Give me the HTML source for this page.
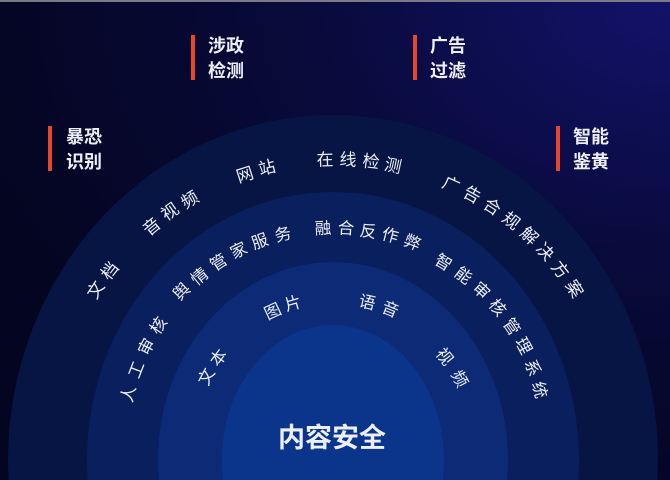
<!DOCTYPE html>
<html><head><meta charset="utf-8"><style>
html,body{margin:0;padding:0;width:670px;height:480px;overflow:hidden;background:#050726;}
svg{display:block;position:absolute;left:0;top:0}
text{font-family:"Liberation Sans","Noto Sans CJK SC",sans-serif;fill:#eceff8;}
</style></head><body>
<svg width="670" height="480" viewBox="0 0 670 480" xmlns="http://www.w3.org/2000/svg">
<defs>
<radialGradient id="bg" cx="1" cy="0" r="1.1">
<stop offset="0" stop-color="#13126a"/>
<stop offset="0.5" stop-color="#080a3a"/>
<stop offset="1" stop-color="#040520"/>
</radialGradient>
<clipPath id="c"><rect width="670" height="480"/></clipPath>
</defs>
<g clip-path="url(#c)">
<rect width="670" height="480" fill="url(#bg)"/>
<rect width="670" height="2" fill="#7a7a86"/>
<ellipse cx="333" cy="460" rx="325" ry="345" fill="#071545"/>
<ellipse cx="333" cy="460" rx="246" ry="268" fill="#0a1f5d"/>
<ellipse cx="333" cy="460" rx="175" ry="198" fill="#0c2a75"/>
<ellipse cx="333" cy="460" rx="111" ry="135" fill="#0b358b"/>
</g>

<g font-size="18" font-weight="bold">
<rect x="191" y="35" width="4" height="45" fill="#e8462a"/>
<text x="208" y="52">涉政</text><text x="208" y="77">检测</text>
<rect x="413" y="35" width="4" height="45" fill="#e8462a"/>
<text x="430" y="52">广告</text><text x="430" y="77">过滤</text>
<rect x="48" y="126" width="4" height="45" fill="#e8462a"/>
<text x="66" y="143">暴恐</text><text x="66" y="168">识别</text>
<rect x="556" y="126" width="4" height="45" fill="#e8462a"/>
<text x="573" y="143">智能</text><text x="573" y="168">鉴黄</text>
</g>

<g font-size="17" text-anchor="middle" dominant-baseline="central">
<text x="96" y="290" transform="rotate(-57 96 290)">文</text>
<text x="110" y="271" transform="rotate(-52 110 271)">档</text>
<text x="152" y="227" transform="rotate(-40 152 227)">音</text>
<text x="170" y="212" transform="rotate(-35 170 212)">视</text>
<text x="190" y="200" transform="rotate(-31 190 200)">频</text>
<text x="245" y="175" transform="rotate(-18 245 175)">网</text>
<text x="267" y="168" transform="rotate(-14 267 168)">站</text>
<text x="325" y="160" transform="rotate(-2 325 160)">在</text>
<text x="348" y="160" transform="rotate(3 348 160)">线</text>
<text x="371" y="162" transform="rotate(7 371 162)">检</text>
<text x="393" y="166" transform="rotate(12 393 166)">测</text>
<text x="451" y="185" transform="rotate(24 451 185)">广</text>
<text x="472" y="195" transform="rotate(29 472 195)">告</text>
<text x="492" y="207" transform="rotate(33 492 207)">合</text>
<text x="511" y="221" transform="rotate(38 511 221)">规</text>
<text x="529" y="236" transform="rotate(43 529 236)">解</text>
<text x="545" y="252" transform="rotate(47 545 252)">决</text>
<text x="560" y="270" transform="rotate(52 560 270)">方</text>
<text x="574" y="289" transform="rotate(57 574 289)">案</text>
</g>

<g font-size="16.5" text-anchor="middle" dominant-baseline="central">
<text x="182" y="292" transform="rotate(-45 182 292)">舆</text>
<text x="200" y="277" transform="rotate(-39 200 277)">情</text>
<text x="219" y="263" transform="rotate(-33 219 263)">管</text>
<text x="239" y="251" transform="rotate(-26 239 251)">家</text>
<text x="260" y="242" transform="rotate(-20 260 242)">服</text>
<text x="283" y="235" transform="rotate(-14 283 235)">务</text>
<text x="323" y="229" transform="rotate(-3 323 229)">融</text>
<text x="346" y="229" transform="rotate(3 346 229)">合</text>
<text x="368" y="232" transform="rotate(9 368 232)">反</text>
<text x="390" y="236" transform="rotate(15 390 236)">作</text>
<text x="412" y="243" transform="rotate(21 412 243)">弊</text>
<text x="443" y="263" transform="rotate(31 443 263)">智</text>
<text x="463" y="276" transform="rotate(37 463 276)">能</text>
<text x="481" y="291" transform="rotate(43 481 291)">审</text>
<text x="497" y="308" transform="rotate(50 497 308)">核</text>
<text x="511" y="327" transform="rotate(56 511 327)">管</text>
<text x="523" y="346" transform="rotate(62 523 346)">理</text>
<text x="532" y="368" transform="rotate(69 532 368)">系</text>
<text x="539" y="390" transform="rotate(75 539 390)">统</text>
<text x="129" y="394" transform="rotate(-76 129 394)">人</text>
<text x="137" y="370" transform="rotate(-69 137 370)">工</text>
<text x="147" y="347" transform="rotate(-63 147 347)">审</text>
<text x="159" y="326" transform="rotate(-56 159 326)">核</text>

<text x="273" y="312" transform="rotate(-25 273 312)">图</text>
<text x="293" y="304" transform="rotate(-16 293 304)">片</text>
<text x="367" y="303" transform="rotate(13 367 303)">语</text>
<text x="390" y="310" transform="rotate(22 390 310)">音</text>
<text x="207" y="377" transform="rotate(-62 207 377)">文</text>
<text x="219" y="358" transform="rotate(-53 219 358)">本</text>
<text x="444" y="357" transform="rotate(51 444 357)">视</text>
<text x="459" y="379" transform="rotate(62 459 379)">频</text>
</g>

<text x="332" y="438" font-size="27" font-weight="bold" text-anchor="middle" dominant-baseline="central" fill="#ffffff">内容安全</text>
</svg>
</body></html>
